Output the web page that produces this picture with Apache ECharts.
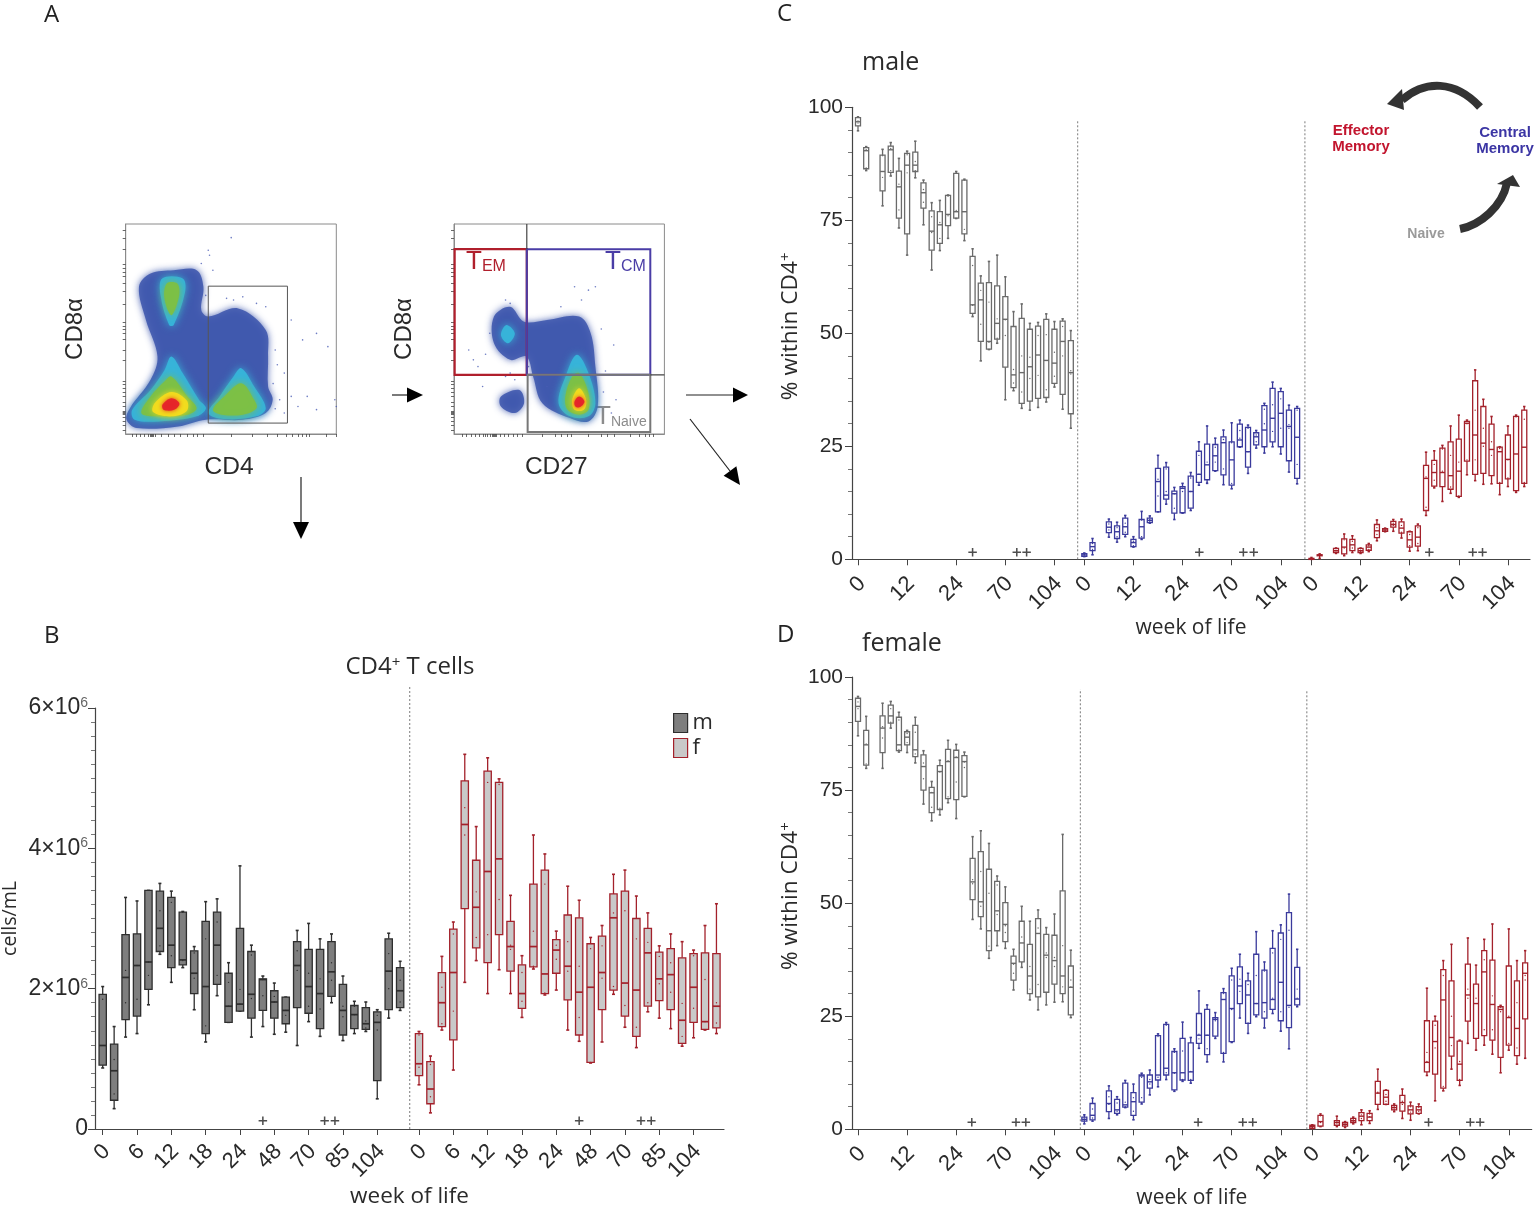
<!DOCTYPE html>
<html>
<head>
<meta charset="utf-8">
<title>CD4 T cell subsets</title>
<script src="https://cdn.jsdelivr.net/npm/echarts@6/dist/echarts.min.js"></script>
<style>html,body{margin:0;padding:0;background:#fff}#chart{width:1535px;height:1206px}</style>
</head>
<body>
<div id="chart"></div>
<script>
// ---------- tick labels ----------
const ticksCellsB = ['0','6','12','18','24','48','70','85','104'];
const ticksPercent = ['0','12','24','70','104'];

// ---------- panel B: CD4+ T cells, in millions of cells/mL ----------
// each row: low whisker, Q1, median, Q3, high whisker, point, point
const cellsMale = [
[.87,.91,1.19,1.92,2.03,1.85,.9],[.29,.41,.83,1.21,1.46,.99,.5],[1.31,1.56,2.16,2.77,3.3,2.26,1.8],[1.36,1.61,2.33,2.78,3.25,1.85,2.33],
[1.77,1.99,2.38,3.4,3.4,2.19,2.38],[2.49,2.53,2.86,3.39,3.5,3.11,2.61],[2.09,2.3,2.62,3.3,3.39,3.23,2.47],[2.3,2.34,2.41,3.09,3.1,3.09,2.4],
[1.7,1.93,2.22,2.54,2.6,2.51,2.15],[1.24,1.36,2.03,2.96,3.24,2.71,1.47],[1.9,2.06,2.62,3.09,3.28,2.95,2.19],[1.52,1.52,1.75,2.22,2.37,2.09,1.75],
[1.68,1.68,1.78,2.86,3.75,1.99,1.78],[1.31,1.58,1.92,2.53,2.62,2.48,1.86],[1.46,1.69,2.13,2.14,2.18,1.9,2.13],[1.35,1.58,1.81,1.97,2.08,1.89,1.81],
[1.38,1.5,1.69,1.88,1.88,1.62,1.69],[1.19,1.73,2.33,2.67,2.83,2.54,2.26],[1.53,1.65,2.03,2.56,2.93,2.22,1.75],[1.32,1.43,1.93,2.56,2.71,2.14,1.71],
[1.8,1.89,2.24,2.67,2.78,2.37,2.12],[1.26,1.34,1.69,2.06,2.18,1.75,1.6],[1.36,1.43,1.63,1.76,1.82,1.75,1.63],[1.39,1.42,1.5,1.73,1.81,1.54,1.44],
[.43,.69,1.52,1.67,1.7,1.62,1.41],[1.58,1.7,2.25,2.71,2.79,2.5,2],[1.69,1.73,1.97,2.3,2.39,2.12,1.81]];
const cellsFemale = [
[.63,.76,.93,1.36,1.39,1.34,.88],[.23,.36,.57,.96,1.04,.92,.46],[1.41,1.46,1.8,2.23,2.46,2.02,1.5],[.84,1.27,2.23,2.85,2.95,2.78,1.68],
[2.09,3.14,4.34,4.96,5.34,4.58,4.19],[2.4,2.58,3.16,3.83,4.31,3.38,2.73],[1.93,2.37,3.67,5.1,5.29,4.94,2.77],[2.27,2.77,3.85,4.94,4.99,4.91,3.27],
[1.93,2.25,2.6,2.96,3.33,2.62,2.56],[1.59,1.72,1.93,2.34,2.47,2.23,1.82],[2.28,2.31,2.6,3.49,4.19,2.82,2.32],[1.91,1.93,2.21,3.69,3.92,3.49,1.94],
[1.98,2.22,2.55,2.7,2.82,2.62,2.42],[1.41,1.84,2.32,3.05,3.46,2.67,2.25],[1.25,1.34,1.95,3.01,3.26,2.32,1.59],[.94,.95,2.02,2.64,2.73,2.57,.95],
[1.24,1.7,2.23,2.75,2.9,2.61,2.15],[1.92,1.98,3.01,3.35,3.63,3.08,2.03],[1.45,1.61,2.08,3.39,3.69,3.11,1.76],[1.16,1.32,1.98,3,3.32,2.71,1.45],
[1.67,1.75,2.51,2.86,3.08,2.66,1.8],[1.58,1.83,2.14,2.52,2.61,2.46,2.07],[1.43,1.7,2.2,2.57,2.78,2.37,1.95],[1.18,1.22,1.55,2.44,2.67,1.79,1.32],
[1.3,1.52,2.02,2.5,2.55,2.47,1.72],[1.41,1.42,1.53,2.51,2.9,2.13,1.53],[1.36,1.44,1.75,2.5,3.21,1.8,1.51]];
const plusWeeksCells = [14, 19.4, 20.3];

// ---------- panel C: male, % within CD4+ ----------
const maleNaive = [
[94.8,95.9,96.8,97.7,97.9,97,96.5],[86,86.4,90.4,91.1,91.3,90.6,86.6],null,[78.2,81.5,85.8,89.4,90.7,84.5,89.3],
[84.8,85.6,90.6,91.4,92.2,90.9,86],[73.3,75.5,82.4,85.9,88.7,83,77.3],[67.3,72,87.2,89.8,90.3,85.5,89.5],[84.4,85.8,87.2,90.1,92.5,88,86],
[74,77.7,81.1,83.3,83.9,81.8,79],[64,68.4,72.6,77.1,78.9,75.8,72.3],[68.3,69.9,74,76.9,79.4,74.5,71],[71,73.8,76.3,80.5,80.6,80.3,76],
[75.4,75.5,76.9,85.4,85.8,77.2,85.4],[70.5,72,76.9,83.9,84.1,73,83.9],[53.7,54.4,56.3,67,68.7,65,56.2],[43.9,48.2,57.4,61.1,62.7,59.5,52],
[46.4,46.5,48.2,61.2,65.9,56.9,48],[47.8,48.7,52.2,60.5,67.3,53.2,48.9],[35.3,42.5,53.1,58.1,62.5,49.5,53],[37.3,38,40.8,51.5,54.8,42,39],
[33.4,34.5,41.3,53.3,56.5,45,37],[33,35,42.6,50.9,52.2,44.7,40],[33.6,35.6,45.2,51.6,52.4,49.5,40.7],[34.8,35.8,44,53.1,54.3,49.7,37.5],
[38.1,38.9,43.4,50.9,52.6,45.8,40.5],[33.2,36.5,48.2,52.7,53.2,45,51.5],[29,32.2,41.3,48.4,50.6,41.7,41]];
const maleCentral = [
[.6,.66,.96,1.25,1.4,1,1],[1,1.9,2.8,3.7,4.6,3.5,2.2],null,[4.9,5.9,7.1,8.3,8.9,7.8,6.5],
[3.8,4.6,6.1,7.4,8.2,7,5],[5,5.5,7.2,9.1,9.7,8,6],[2.7,2.8,3.7,4.4,5,4,3],[4.4,4.7,7.2,8.8,10.6,8.7,5],
[8,8.1,8.6,9.1,9.6,8.8,8.4],[10.5,10.5,17.2,20.1,23,17.7,14],[12.2,13.3,14.2,20.4,21.4,20,15],[8.8,10.2,14.5,15.1,15.9,14.5,11.3],
[10.2,10.3,15.7,16.1,16.8,16,15],[10.8,11.3,15,18.4,19.2,18,15],[16.4,17,18.8,23.9,26,23,18.8],[16.8,17.6,20.9,25.5,29.5,21.5,17],
[19.5,19.6,22.9,25.4,26.8,24.8,21.5],[16.5,18.7,25.8,27.1,28.6,26.5,20],[15.6,16.4,22,26,30.2,25.8,16.8],[24.8,24.9,26.4,29.9,30.8,28.5,26.8],
[19,20.4,23.8,29.2,29.7,29,23.8],[24.6,25.3,27.1,28,28.5,27.5,26],[23.5,24.9,28.6,34,34.5,33.2,30],[24.9,26,31.2,37.8,39.2,34.2,28.3],
[23.3,24.9,32.3,37.1,37.8,35.5,29],[19.3,21.8,29.4,33,34.1,29.8,29],[16.7,17.9,27,33.4,33.8,33,21]];
const maleEffector = [
[0,0,.15,.2,.4,.1,.1],[.2,.8,.96,1,1.2,1,1],null,[1.3,1.5,1.9,2.4,2.5,2,1.9],
[.8,1.2,2.7,4.5,5.6,4.3,2.5],[1.5,1.9,3.2,4.4,5.2,4,2.5],[1.3,1.5,1.9,2.4,2.5,2,1.7],[1.7,2,2.7,3.2,3.5,3,2.2],
[4.1,4.8,6.3,7.7,8.7,7,5.5],[6.1,6.2,6.5,6.8,6.9,6.5,6.4],[6.2,7.1,7.7,8.4,8.8,8,7.5],[4.7,5.8,6.9,8.3,8.9,7.5,6],
[1.8,2.7,4.3,6.1,6.2,5.5,3],[1.9,2.9,4.9,7.4,7.8,7,3.5],[9.7,10.8,17.9,20.8,23.7,18.2,11.5],[15.8,16.2,19.2,21.9,24,21,17.5],
[12.8,16.1,19.2,24.6,25.2,24.4,19.5],[14.6,15.5,18.5,26,29.5,23,16],[13.7,13.9,19.5,26.6,31.9,21.5,14],[18.7,21.7,30.1,30.5,30.8,30,22],
[17.4,18.8,27.5,39.5,41.9,33,22],[16.6,19,25.7,33.8,35.4,29,25],[16.7,18.5,24.3,29.9,31.6,26,23],[14.3,16.8,23.8,24.8,24.9,24.5,17],
[16.1,17.8,22.1,27.5,29.5,22,18],[14.8,15.2,23.3,31.6,31.9,31.5,15],[16.1,16.8,24.8,33,33.8,31,17]];
const plusWeeksMale = [[14,19.4,20.6],[14.05,19.43,20.7],[14.4,19.7,20.9]];

// ---------- panel D: female, % within CD4+ ----------
const femaleNaive = [
[87,90.2,93.5,95.3,95.7,94.5,93],[79.8,80.5,85,88.2,91.3,85.2,80.8],null,[79.8,83.3,88.7,91.4,94.2,86.5,89],
[88.7,89.8,91.4,93.8,94.6,93,90],[83.4,83.7,85,91.1,92.2,90.5,84],[83.3,85,86.7,87.9,88.2,87.5,85.5],[81,82.4,83.9,89.3,91.1,87.8,83],
[71.9,75,80.2,82.8,83.7,81,77.5],[68.2,70,74.4,75.6,76.9,74.5,71.2],[69.5,70.7,79.1,80.4,81.6,79,71],[72.2,73.1,81.3,84,86,81.5,73.5],
[68.7,72.9,82.2,83.8,85.1,82.3,76.8],[73.5,73.6,81.3,82.6,83.4,81.2,80],[46.4,50.8,54.7,59.9,64.7,55.2,54.3],[44.3,47,50.3,61.4,66,57,49.3],
[37.8,39.5,43.9,57.5,63.2,52.2,40.5],[40.6,43.9,48.3,54.8,56,54,47.5],[40,41.5,45.3,50.1,53.6,45,43.5],[30.8,33,36.7,38.3,39.8,36.5,34.5],
[35.8,37,41.2,46,49.3,42.5,36.8],[28.6,30,33.9,40.9,46,36,31],[26.4,29.3,43.3,46.6,48.5,44.5,32],[27.5,30.3,38.5,43.1,44.6,39,38],
[28.1,32.1,37.3,42.9,47.6,38,36],[28.2,30,33.9,52.7,65.2,40.6,31.5],[24.7,25.3,31.4,36.1,39.6,33,31.5]];
const femaleCentral = [
[1.2,1.8,2.2,2.7,3.2,2.5,2],[1.8,2.1,3.1,5.7,6.9,4.5,2.5],null,[2.4,3.9,5.7,8.5,9.6,7.2,5.5],
[3.2,3.5,4.3,6.6,7.2,5.8,4],[4.8,4.9,5.4,10.2,10.8,6,5],[2.1,3.1,6.1,8.1,10,7,4],[5.6,6,11.8,12,12.4,11.5,7],
[7.6,9.1,10.5,12,13.1,11,10],[9.4,10.9,12,20.7,21.1,20.5,11.5],[11,12,13.5,23.2,23.6,23,12.5],[8.4,8.7,12.5,17.2,17.8,17,12.4],
[10.6,10.9,12.5,20.1,23.7,17.3,11],[10.2,10.8,12.7,19.1,20.3,12.8,11],[17.9,19,20.8,25.6,30.6,21,20],[14.9,16.5,20.8,26.5,27.5,20.8,17.8],
[20.1,20.6,24.3,24.7,25.8,24.5,24],[14.9,16.8,28.7,30.2,31.1,30,17],[19.2,19.4,26.7,33.9,35.6,33,26.5],[24.6,27.8,31.7,35.9,38.7,33.2,30.5],
[21.2,23.4,29.7,32.8,34.5,32,23.5],[24.9,25.3,27.8,38.7,43.7,34,27.8],[22.4,24.6,28,35.2,37,35,26],[25.6,26.5,28.7,40,43.9,39,29],
[21.7,24,32.5,43.4,45.2,42,26],[17.8,22.5,27.4,47.9,52,44,27],[27.1,27.5,28.8,35.8,39.8,31,29]];
const femaleEffector = [
[.15,.2,.6,.9,1,.5,.4],[.6,.7,1.7,3.1,3.4,3,1.5],null,[.6,.9,1.5,1.9,2.9,1.8,1.4],
[.4,.7,1.1,1.5,1.7,1.2,.9],[1.2,1.5,1.9,2.4,2.7,2.2,1.7],[1,1.9,2.9,3.7,4.3,3.2,2.4],[1.3,1.9,2.7,3.5,4.1,3.4,2.8],
[4.4,5.5,8,10.6,13.3,8,8.2],[5.5,5.5,7.1,8.6,8.7,7.7,6.2],[3.9,4.3,4.8,5.3,5.6,5,4.5],[2.4,4,5.9,7.5,8.9,6.2,5.5],
[2,3.4,4.3,5.2,6,5,3.8],[3.4,3.5,4.3,5,5.6,4.8,4],[11.9,12.7,14.8,24,31.2,17,15],[6.3,12.2,19.4,23.9,25,23,18],
[8.5,9.1,28.6,35.3,37.3,34,9.5],[13.3,16.2,20.3,32.8,40.9,25,18.5],[9.7,10.8,14.4,19.5,19.7,15,11],[19,23.9,29.7,36.5,42.3,31,29],
[17.5,20.1,27.8,32.1,36.3,29,20],[18.6,20.7,34.8,39.5,42,37.5,22],[16.6,19.7,27.6,37.4,45.4,29.5,22],[12.5,15.9,26.5,27.1,27.4,27,26],
[17.5,18.6,24.7,36.1,44.3,25,19],[14.4,16.3,22.3,32.8,37.3,28,18],[15.7,24.4,34.5,36.8,39.5,34,33]];
const plusWeeksFemale = [[13.9,19.3,20.5],[13.9,19.35,20.57],[14.2,19.3,20.5]];

// ---------- panel A: density contours (axis units 0-100) ----------
const densityCD4 = [
 {level:0,pts:[[22.8,78],[33.7,78],[36.9,70.1],[35.9,59],[39.2,55.9],[53.4,59.8],[66.5,49.5],[67.6,36.9],[67.6,22.6],[69.8,16.3],[66.5,10],[55.6,6.8],[38.1,6.8],[24.9,3.6],[5.3,2.8],[.4,6.8],[2,12.3],[11.8,25.8],[15.1,36.9],[9.6,54.3],[6.3,70.1],[11.8,76.4]]},
 {level:1,pts:[[17.3,74],[27.1,74],[28.2,67.7],[22.8,51.9],[20.6,51.9],[16.6,65.8]]},
 {level:1,pts:[[21.7,36.9],[27.1,28.9],[34.8,16.3],[38.1,12.3],[33.7,8.4],[16.2,6],[4.2,6.8],[3.1,11.5],[11.8,21],[18.4,30.4]]},
 {level:1,pts:[[54.9,31.3],[61,22.6],[66.5,12.3],[62.1,8.4],[46.8,7.1],[39.2,10],[44.6,17.9],[51.2,27.4]]},
 {level:2,pts:[[19.5,71.7],[24.5,71.7],[25.4,66.1],[21.7,56.6],[18.4,64.6]]},
 {level:2,pts:[[21.7,27.4],[29.3,17.9],[33.7,12.3],[29.3,9.2],[14,8.4],[7.4,10],[11.8,17.9],[18.4,25]]},
 {level:2,pts:[[54.9,24.2],[61,16.3],[62.1,12.3],[55.6,9.2],[45.7,9.2],[41.4,11.6],[46.8,17.9]]},
 {level:3,pts:[[21.7,20],[29,16],[29,11],[21.7,8.4],[13,10.5],[14,15]]},
 {level:4,pts:[[21.7,17],[25.5,14.5],[23,11.5],[18,11.5],[17.5,14]]}];
const densityCD27 = [
 {level:0,pts:[[19,55.9],[26.7,60.6],[33.3,53.5],[44.2,54.3],[59.5,55.9],[65,47.9],[67.2,32.1],[68.3,13.1],[63.9,6],[55.1,7.6],[42,14.7],[37.6,27.4],[34.4,36.9],[26.7,35.3],[19,43.2]]},
 {level:0,pts:[[22.3,17.9],[31.1,21],[33.3,14.7],[28.9,10],[22.3,13.1]]},
 {level:1,pts:[[24.9,51.9],[28.9,47.9],[25.6,43.2],[22.3,47.1]]},
 {level:1,pts:[[58.4,37.7],[63.9,29],[67.2,14.7],[63.9,8.4],[55.1,8.4],[49.7,14.7],[53,27.4]]},
 {level:2,pts:[[59.5,29],[63.9,19.5],[63.9,11.5],[59.5,9.2],[54,11.5],[52.9,17.9],[56.2,27.4]]},
 {level:3,pts:[[59.5,21.8],[62.8,16.3],[61.7,11.5],[57.3,11.5],[56.2,16.3]]},
 {level:4,pts:[[59.5,17.9],[62,15.5],[59.9,12.8],[57.7,13.1],[57.3,15.5]]}];
const sparseCD4 = [[39.2,87.5],[39.8,85.1],[50.1,93.5],[35.9,81.2],[41.4,78],[90.6,47.9],[96,41.6],[84,44.8],[78.6,54.3],[86.2,17.9],[81.8,13.1],[90.6,11.6],[99.3,16.3],[100,13.1],[75.3,29],[73.1,16.3],[51.2,63.8],[55.6,65.3],[62.1,62.2],[47.9,64.6],[66.5,60.6],[78.6,17.9],[75.3,10],[71,40],[72,33],[70,24],[71,12],[38,66]];
const sparseCD27 = [[57.3,70.1],[63.9,68.5],[67.2,70.1],[60.6,63.8],[50.8,60.6],[24.5,63.8],[26.7,62.2],[75.9,42.4],[7,40],[9.2,35.3],[11.4,32.1],[77,16.3],[74.8,10],[13.6,22.6],[26.7,29],[28.9,25.8],[24.5,27.4],[35.4,32.1],[44.2,22.6],[17,48],[15,38],[70,50],[72,30],[71,20]];
const gatesCD4 = [[39.2,5.2,76.8,70.4]];
const gatesCD27 = [[.3,28.2,34.6,88],[34.6,28.2,93.3,88],[35,1,93.3,28.2],[34.6,88,34.6,100],[93.3,28.2,100,28.2]];
const flowTicksX1 = [3,5,7,9,10.5,11.5,12,12.5,13,14,17,20,23,26,29,32,34,36.8,50,60,67,72,76,79,82,84,85.5,87,95,100];
const flowTicksY1 = [2,4,6,8,9.5,10,10.5,11,13,15,18,20,22,23.5,25,35,40,45,48,50,51.5,53.3,62,68,72,75,77,79,80.7,88,93,97];
const flowTicksX2 = [4,6,8,10,12,14,15,16,17,18,18.5,19,19.5,20,22,24,26,28,30,32.6,42,48,51,54,55.8,64,70,73,76,84,88,91,93,94.5];

// ---------- styles ----------
const SANS = '"Liberation Sans", Arial, sans-serif';
const OPEN = '"Open Sans", sans-serif';
const INK = '#2a2a2a';
const GRAY = '#6a6a6a', BLUE = '#3a3a9c', RED = '#a3212b';
const densityColors = ['#3d56ad','#37b4da','#7dbf45','#f3dc1e','#e5232a'];
const densityBlur = [7,8,8,6,4];
const gap1 = 27.65;

const grids = [
 {left:125.7,top:224,width:210.6,height:210,show:true,borderColor:'#8a8a8a',borderWidth:1,outerBoundsMode:'none'},
 {left:454,top:224,width:210.4,height:210,show:true,borderColor:'#8a8a8a',borderWidth:1,outerBoundsMode:'none'},
 {left:95,top:708,width:629,height:421,outerBoundsMode:'none'},
 {left:852,top:107.3,width:678,height:452,outerBoundsMode:'none'},
 {left:852,top:677,width:679.7,height:452.3,outerBoundsMode:'none'}
];

function rowsToData(rows, offset){
  const out = [];
  rows.forEach((r,i)=>{ if(r) out.push([i+offset].concat(r)); });
  return out;
}
function boxRenderer(o){
  return function(params, api){
    const x = api.value(0);
    const cx = api.coord([x,0])[0];
    const Y = v => api.coord([x,v])[1];
    const lo=Y(api.value(1)), q1=Y(api.value(2)), med=Y(api.value(3)), q3=Y(api.value(4)), hi=Y(api.value(5));
    const d1=Y(api.value(6)), d2=Y(api.value(7));
    const w=o.w/2, c=o.cap/2;
    const seg=(a,b,e,f,lw)=>({type:'line',shape:{x1:a,y1:b,x2:e,y2:f},style:{stroke:o.stroke,lineWidth:lw||o.lw}});
    return {type:'group',children:[
      seg(cx,hi,cx,q3), seg(cx,q1,cx,lo),
      seg(cx-c,hi,cx+c,hi,1.6), seg(cx-c,lo,cx+c,lo,1.6),
      {type:'rect',shape:{x:cx-w,y:q3,width:o.w,height:Math.max(q1-q3,1)},style:{stroke:o.stroke,lineWidth:o.lw,fill:o.fill}},
      seg(cx-w,med,cx+w,med,o.medW),
      {type:'circle',shape:{cx:cx,cy:d1,r:o.dot},style:{fill:o.stroke}},
      {type:'circle',shape:{cx:cx,cy:d2,r:o.dot},style:{fill:o.stroke}}
    ]};
  };
}
function boxSeries(name, rows, offset, grid, o){
  return {name:name,type:'custom',xAxisIndex:grid,yAxisIndex:grid,clip:false,
    itemStyle:{color:o.fill==='none'?'#fff':o.fill,borderColor:o.stroke,borderWidth:1.2},
    dimensions:['x','lo','q1','med','q3','hi','p1','p2'],
    encode:{x:0,y:[1,2,3,4,5]},data:rowsToData(rows,offset),renderItem:boxRenderer(o)};
}
function separator(x, top, grid){
  return {type:'line',xAxisIndex:grid,yAxisIndex:grid,clip:false,silent:true,showSymbol:false,
    lineStyle:{color:'#7a7a7a',width:1,type:[2,2]},data:[[x,0],[x,top]]};
}
const PLUS='path://M3.9 0h1.7v3.9h3.9v1.7H5.6v3.9H3.9V5.6H0V3.9h3.9z';
function plusSeries(xs, y, grid){
  return {type:'scatter',xAxisIndex:grid,yAxisIndex:grid,silent:true,symbol:PLUS,symbolSize:8.5,
    itemStyle:{color:'#222'},data:xs.map(x=>[x,y])};
}
function densitySeries(list, grid){
  return {type:'custom',xAxisIndex:grid,yAxisIndex:grid,silent:true,clip:true,
    data:list.map((d,i)=>[i]),
    renderItem:function(params,api){
      const d=list[params.dataIndex];
      const c=densityColors[d.level];
      return {type:'polygon',shape:{points:d.pts.map(p=>api.coord(p)),smooth:0.35},
        style:{fill:c,opacity:d.level===0?.88:.96,shadowBlur:densityBlur[d.level],shadowColor:c}};
    }};
}
function sparseSeries(list, grid){
  return {type:'scatter',xAxisIndex:grid,yAxisIndex:grid,silent:true,symbolSize:1.6,clip:false,
    itemStyle:{color:'#4a5cb5'},data:list};
}
function gateSeries(list, colors, widths, grid){
  return {type:'custom',xAxisIndex:grid,yAxisIndex:grid,silent:true,clip:false,
    data:list,encode:{x:[0,2],y:[1,3]},
    renderItem:function(params,api){
      const a=api.coord([api.value(0),api.value(1)]), b=api.coord([api.value(2),api.value(3)]);
      return {type:'rect',shape:{x:Math.min(a[0],b[0]),y:Math.min(a[1],b[1]),width:Math.abs(a[0]-b[0]),height:Math.abs(a[1]-b[1])},
        style:{fill:'none',stroke:colors[params.dataIndex],lineWidth:widths[params.dataIndex]}};
    }};
}
function flowX(grid,name,ticks,shift){
  return {type:'value',gridIndex:grid,min:0,max:100,name:name,nameLocation:'middle',nameGap:21,
    nameTextStyle:{fontFamily:SANS,fontSize:24.5,color:INK,verticalAlign:'top',padding:[0,shift,0,0]},
    axisLine:{show:true,lineStyle:{color:'#8a8a8a'}},splitLine:{show:false},axisLabel:{show:false},
    axisTick:{show:true,length:3,customValues:ticks,lineStyle:{color:'#444',width:.8}}};
}
function flowY(grid,name,ticks){
  return {type:'value',gridIndex:grid,min:0,max:100,name:name,nameLocation:'middle',nameGap:38,
    nameTextStyle:{fontFamily:SANS,fontSize:24,color:INK},
    axisLine:{show:true,lineStyle:{color:'#8a8a8a'}},splitLine:{show:false},axisLabel:{show:false},
    axisTick:{show:true,length:3,customValues:ticks,lineStyle:{color:'#444',width:.8}}};
}
function weekAxis(grid,min,max,tickLabels,step,offsets,labelShift,margin,nameGap,nameSize){
  const vals=[], labelVals=[], map={};
  offsets.forEach(off=>tickLabels.forEach((l,i)=>{
    const v=+(i*step+off).toFixed(2), lv=+(v+labelShift).toFixed(2);
    vals.push(v); labelVals.push(lv); map[lv.toFixed(2)]=l;
  }));
  return {type:'value',gridIndex:grid,min:min,max:max,name:'week of life',nameLocation:'middle',nameGap:nameGap,
    nameTextStyle:{fontFamily:OPEN,fontSize:nameSize,color:INK,verticalAlign:'top'},
    splitLine:{show:false},
    axisLine:{show:true,onZero:false,lineStyle:{color:'#444',width:1.2}},
    axisTick:{show:true,length:6,customValues:vals,lineStyle:{color:'#444',width:1}},
    axisLabel:{show:true,customValues:labelVals,rotate:45,margin:margin,fontFamily:SANS,fontSize:22,color:INK,hideOverlap:false,
      formatter:v=>map[(+v).toFixed(2)]||''}};
}
function valueAxis(grid,max,interval,split,fmt,nameText,nameGap,margin,nameSize,rich){
  return {type:'value',gridIndex:grid,min:0,max:max,interval:interval,name:nameText,nameLocation:'middle',nameGap:nameGap,
    nameTextStyle:{fontFamily:OPEN,fontSize:nameSize,color:INK,rich:{a:{fontFamily:OPEN,fontSize:nameSize,color:INK},
      s:{fontFamily:OPEN,fontSize:15,color:INK,verticalAlign:'top',padding:[0,0,10,0]},
      p:{width:14}}},
    splitLine:{show:false},
    axisLine:{show:true,onZero:false,lineStyle:{color:'#444',width:1.2}},
    axisTick:{show:true,length:7,lineStyle:{color:'#444',width:1}},
    minorTick:{show:true,splitNumber:split,length:4,lineStyle:{color:'#555',width:.8}},
    axisLabel:{margin:margin,fontFamily:SANS,fontSize:rich?23:21,color:INK,formatter:fmt,rich:rich||{}}};
}
const sciFmt = v => v===0 ? '0' : '{a|'+v+'×10}{e|6}';
const sciRich = {a:{fontFamily:SANS,fontSize:23,color:INK},e:{fontFamily:SANS,fontSize:14,color:'#666',verticalAlign:'top',padding:[0,0,10,0]}};

const optsMale = {w:7.3,cap:3,stroke:'#2e2e2e',fill:'#7e7e7e',lw:1.3,medW:1.7,dot:.7};
const optsFemale = {w:7.3,cap:3,stroke:'#a3212b',fill:'#c9c9c9',lw:1.3,medW:1.7,dot:.7};
const small = c => ({w:5,cap:2.4,stroke:c,fill:'none',lw:1.3,medW:1.4,dot:.7});

const series = [
  densitySeries(densityCD4,0), sparseSeries(sparseCD4,0), gateSeries(gatesCD4,['#555'],[1],0),
  densitySeries(densityCD27,1), sparseSeries(sparseCD27,1),
  gateSeries(gatesCD27,['#b01f2c','#4a3da6','#777','#444','#444'],[2.2,2,2,1.2,1.2],1),

  separator(26.84,6.3,2),
  boxSeries('m',cellsMale,0,2,optsMale),
  boxSeries('f',cellsFemale,gap1,2,optsFemale),
  plusSeries(plusWeeksCells,.116,2),
  plusSeries(plusWeeksCells.map(v=>v+gap1),.116,2),

  separator(26.84,97.3,3), separator(54.6,97.3,3),
  boxSeries('male naive',maleNaive,0,3,small(GRAY)),
  boxSeries('male central memory',maleCentral,gap1,3,small(BLUE)),
  boxSeries('male effector memory',maleEffector,55.4,3,small(RED)),
  plusSeries(plusWeeksMale[0],1.55,3),
  plusSeries(plusWeeksMale[1].map(v=>v+gap1),1.55,3),
  plusSeries(plusWeeksMale[2].map(v=>v+55.4),1.55,3),

  separator(27.16,97.3,4), separator(54.83,97.3,4),
  boxSeries('female naive',femaleNaive,0,4,small(GRAY)),
  boxSeries('female central memory',femaleCentral,gap1,4,small(BLUE)),
  boxSeries('female effector memory',femaleEffector,55.5,4,small(RED)),
  plusSeries(plusWeeksFemale[0],1.55,4),
  plusSeries(plusWeeksFemale[1].map(v=>v+gap1),1.55,4),
  plusSeries(plusWeeksFemale[2].map(v=>v+55.5),1.55,4)
];

function txt(text,x,y,font,fill,align,rich){
  return {type:'text',silent:true,style:{text:text,x:x,y:y,font:font,fill:fill,align:align||'left',verticalAlign:'middle',rich:rich}};
}
function arrow(x1,y1,x2,y2,bx,by,hw){
  const dx=x2-x1, dy=y2-y1, L=Math.hypot(dx,dy), nx=-dy/L, ny=dx/L;
  return [
    {type:'line',silent:true,shape:{x1:x1,y1:y1,x2:bx,y2:by},style:{stroke:'#222',lineWidth:1.2}},
    {type:'polygon',silent:true,shape:{points:[[x2,y2],[bx+nx*hw,by+ny*hw],[bx-nx*hw,by-ny*hw]]},style:{fill:'#000'}}
  ];
}
const letter = '24px "Open Sans", sans-serif';
const subRich = (c,s) => ({t:{fontFamily:SANS,fontSize:26,fill:c},s:{fontFamily:SANS,fontSize:s,fill:c,padding:[10,0,0,0]}});
const BOLD = 'bold 15px "Liberation Sans", sans-serif';
const graphics = [
  txt('A',44,15,letter,'#222'), txt('B',44,636,letter,'#222'), txt('C',777,14,letter,'#222'), txt('D',777,635,letter,'#222'),
  txt('male',862,63,'25px "Open Sans", sans-serif',INK), txt('female',862,644,'25px "Open Sans", sans-serif',INK),
  txt('{t|T}{s|EM}',466,262,'26px sans-serif','#b01f2c','left',subRich('#b01f2c',16)),
  txt('{t|T}{s|CM}',605,262,'26px sans-serif','#4a3da6','left',subRich('#4a3da6',16)),
  txt('{t|T}{s|Naive}',595,417,'26px sans-serif','#8c8c8c','left',subRich('#8c8c8c',14)),
  ...arrow(301,477,301,539,301,522,8),
  ...arrow(392,395,423,395,407,395,7.5),
  ...arrow(686,395,748,395,733,395,7.5),
  ...arrow(690,419,740,485,730,471,8),
  {type:'bezierCurve',silent:true,shape:{x1:1480,y1:107,x2:1402,y2:100,cpx1:1455,cpy1:80,cpx2:1425,cpy2:80},style:{stroke:'#333',lineWidth:8,fill:'none'}},
  {type:'polygon',silent:true,shape:{points:[[1387,104],[1402,89],[1404,110]]},style:{fill:'#333'}},
  {type:'bezierCurve',silent:true,shape:{x1:1460,y1:229,x2:1507,y2:183,cpx1:1480,cpy1:225,cpx2:1502,cpy2:207},style:{stroke:'#333',lineWidth:8,fill:'none'}},
  {type:'polygon',silent:true,shape:{points:[[1513,175],[1497,184],[1520,187]]},style:{fill:'#333'}},
  txt('Effector',1361,131,BOLD,'#c2152e','center'),
  txt('Memory',1361,147,BOLD,'#c2152e','center'),
  txt('Central',1505,133,BOLD,'#3b35a4','center'),
  txt('Memory',1505,149,BOLD,'#3b35a4','center'),
  txt('Naive',1426,234,'bold 14px "Liberation Sans", sans-serif','#9a9a9a','center')
];

const option = {
  animation:false,
  backgroundColor:'#fff',
  textStyle:{fontFamily:OPEN},
  title:{text:'{a|CD4}{s|+}{a| T cells}',left:405,top:650,textAlign:'center',
    textStyle:{fontWeight:'normal',rich:{a:{fontFamily:OPEN,fontSize:24,fontWeight:'normal',color:INK},s:{fontFamily:OPEN,fontSize:15,fontWeight:'normal',color:INK,verticalAlign:'top',padding:[0,0,10,0]}}}},
  legend:{orient:'vertical',left:668,top:707,itemWidth:14,itemHeight:19,itemGap:3,selectedMode:false,
    textStyle:{fontFamily:OPEN,fontSize:22,color:INK},
    data:[{name:'m',icon:'rect',itemStyle:{color:'#7e7e7e',borderColor:'#2e2e2e',borderWidth:1.2}},
          {name:'f',icon:'rect',itemStyle:{color:'#c9c9c9',borderColor:'#a3212b',borderWidth:1.2}}]},
  grid:grids,
  xAxis:[
    flowX(0,'CD4',flowTicksX1,4), flowX(1,'CD27',flowTicksX2,6),
    weekAxis(2,-.673,54.31,ticksCellsB,3,[0,gap1],.35,19,55,22.5),
    weekAxis(3,-.733,82.1,ticksPercent,6,[0,gap1,55.4],.5,21,57,21),
    weekAxis(4,-.733,82.3,ticksPercent,6,[0,gap1,55.5],.5,21,57,21)
  ],
  yAxis:[
    flowY(0,'CD8α',flowTicksY1), flowY(1,'CD8α',flowTicksY1),
    valueAxis(2,6,2,10,sciFmt,'cells/mL',75,7,19.5,sciRich),
    valueAxis(3,100,25,5,v=>''+v,'{p| }{a|% within CD4}{s|+}',49,9,22.7),
    valueAxis(4,100,25,5,v=>''+v,'{p| }{a|% within CD4}{s|+}',49,9,22.7)
  ],
  series:series,
  graphic:{elements:graphics}
};
const chart = echarts.init(document.getElementById('chart'),null,{renderer:'canvas'});
chart.setOption(option);
</script>
</body>
</html>
